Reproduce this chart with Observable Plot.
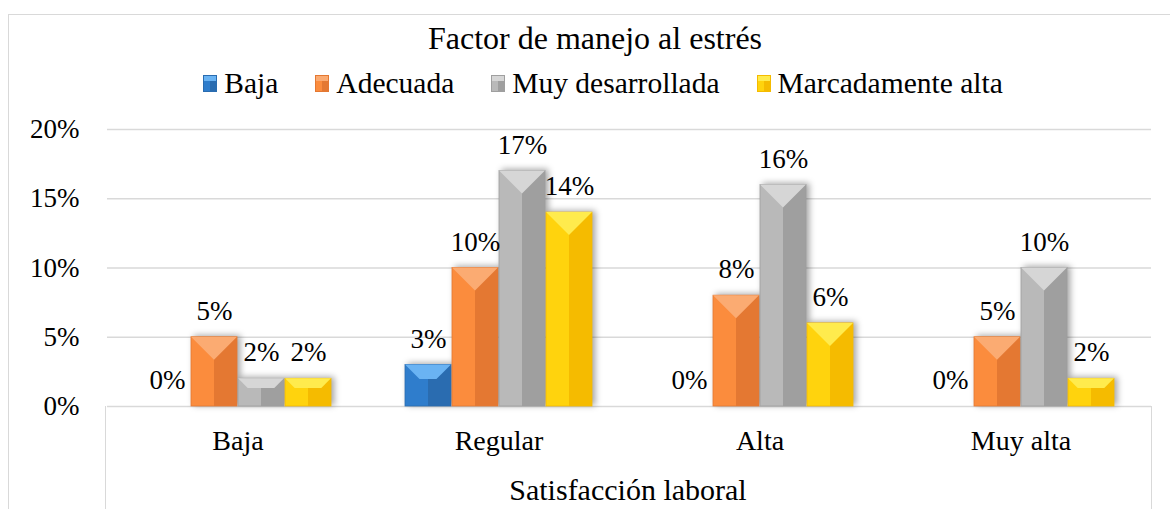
<!DOCTYPE html>
<html><head><meta charset="utf-8">
<script src="https://cdn.jsdelivr.net/npm/d3@7"></script>
<script src="https://cdn.jsdelivr.net/npm/@observablehq/plot@0.6"></script>
<style>
html,body{margin:0;padding:0;background:#fff;}
body, body *{font-family:'Liberation Serif','Times New Roman',serif !important;}
body{width:1170px;height:509px;overflow:hidden;position:relative;color:#000;}
svg text{font-family:'Liberation Serif','Times New Roman',serif !important;}
#frame{position:absolute;left:8px;top:14px;width:1200px;height:600px;border:1.5px solid #d9d9d9;box-sizing:border-box;}
#title{position:absolute;left:0;width:1190px;top:18px;text-align:center;font-size:32px;line-height:40px;}
#legend{position:absolute;left:8px;width:1190px;top:63px;display:flex;justify-content:center;gap:37px;font-size:29.5px;line-height:40px;}
#legend .item{display:flex;align-items:center;}
#legend .sw{width:14px;height:17px;margin-right:7px;box-sizing:border-box;}
#chart{position:absolute;left:0;top:100px;}
#xbox{position:absolute;left:105px;top:406px;width:1047px;height:120px;border-left:1.5px solid #d9d9d9;border-right:1.5px solid #d9d9d9;box-sizing:border-box;}
#xtitle{position:absolute;left:105px;width:1046px;top:470px;text-align:center;font-size:30px;line-height:40px;}
</style>
</head><body>
<div id="frame"></div>
<div id="title">Factor de manejo al estrés</div>
<div id="legend"></div>
<div id="xbox"></div>
<div id="chart"></div>
<div id="xtitle">Satisfacción laboral</div>
<script>
// ---- data ----
const categories = ["Baja", "Regular", "Alta", "Muy alta"];
const series = ["Baja", "Adecuada", "Muy desarrollada", "Marcadamente alta"];
const valuesBaja = [0, 3, 0, 0];
const valuesAdecuada = [5, 10, 8, 5];
const valuesMuyDesarrollada = [2, 17, 16, 10];
const valuesMarcadamenteAlta = [2, 14, 6, 2];
const yTicks = [0, 5, 10, 15, 20];

// ---- styles ----
const FONT = "'Liberation Serif', 'Times New Roman', serif";
const shades = [
  {left:"#2f7dcc", right:"#2a6cb0", top:"#6ab3f3"},
  {left:"#fb8c3d", right:"#e47832", top:"#fbab72"},
  {left:"#b9b9b9", right:"#9f9f9f", top:"#d6d6d6"},
  {left:"#ffd30d", right:"#f5bb00", top:"#ffeb4d"}
];

const seriesValues = [valuesBaja, valuesAdecuada, valuesMuyDesarrollada, valuesMarcadamenteAlta];
const data = categories.flatMap((c, i) => series.map((s, j) => ({cat: c, ser: s, v: seriesValues[j][i]})));

// legend
const legend = document.getElementById("legend");
series.forEach((s, j) => {
  const it = document.createElement("div"); it.className = "item";
  const sw = document.createElement("div"); sw.className = "sw";
  sw.style.background = `linear-gradient(180deg, ${shades[j].top} 0 30%, transparent 30%), linear-gradient(90deg, ${shades[j].left} 50%, ${shades[j].right} 50%)`;
  sw.style.border = `1px solid ${shades[j].right}`;
  const tx = document.createElement("span"); tx.textContent = s;
  it.append(sw, tx); legend.append(it);
});

const chart = Plot.plot({
  width: 1170, height: 409,
  marginTop: 29, marginBottom: 103, marginLeft: 105, marginRight: 18,
  style: {fontFamily: FONT, fontSize: "27px", color: "#000", background: "transparent", overflow: "visible"},
  fx: {domain: categories, padding: 0, label: null},
  x: {domain: series, paddingInner: 0.02, paddingOuter: 0.78, axis: null},
  y: {domain: [0, 20], label: null, axis: null},
  color: {domain: series, range: series.map((s, j) => `url(#barGrad${j})`)},
  marks: [
    Plot.gridY(yTicks, {stroke: "#d9d9d9", strokeOpacity: 1, strokeWidth: 1.5}),
    Plot.axisY(yTicks, {tickSize: 0, tickPadding: 28, tickFormat: d => d + "%", fontSize: 27, fontFamily: FONT, label: null}),
    Plot.axisFx({anchor: "bottom", tickSize: 0, tickPadding: 24, fontSize: 28, fontFamily: FONT, label: null}),
    Plot.barY(data, {fx: "cat", x: "ser", y: "v", fill: "ser", className: "bevel"}),
    Plot.text(data, {fx: "cat", x: "ser", y: "v", text: d => d.v + "%", dy: -26, fontSize: 27, fontFamily: FONT, fill: "#000"})
  ]
});
document.getElementById("chart").append(chart);

// gradients + bevel decoration derived from rendered bars
const svg = d3.select(chart.tagName.toLowerCase() === "svg" ? chart : chart.querySelector("svg"));
const defs = svg.insert("defs", ":first-child");
shades.forEach((sh, j) => {
  const g = defs.append("linearGradient").attr("id", `barGrad${j}`).attr("x1", 0).attr("x2", 1).attr("y1", 0).attr("y2", 0);
  g.append("stop").attr("offset", "0%").attr("stop-color", sh.left);
  g.append("stop").attr("offset", "50%").attr("stop-color", sh.left);
  g.append("stop").attr("offset", "50%").attr("stop-color", sh.right);
  g.append("stop").attr("offset", "100%").attr("stop-color", sh.right);
});
svg.selectAll("g.bevel").style("filter", "drop-shadow(3px -1px 3px rgba(0,0,0,0.35))");
svg.selectAll("g.bevel rect").each(function() {
  const r = d3.select(this);
  const x0 = +r.attr("x"), y0 = +r.attr("y"), w = +r.attr("width"), h = +r.attr("height");
  if (!(h > 0.5)) return;
  const fill = r.attr("fill") || "";
  const m = fill.match(/barGrad(\d)/);
  const j = m ? +m[1] : 0;
  const sh = shades[j];
  const x1 = x0 + w;
  const b = Math.min(w / 2, h * 0.35);
  const parent = d3.select(this.parentNode);
  r.attr("stroke", sh.right).attr("stroke-width", 0.8);
  parent.append("polygon")
    .attr("points", `${x0},${y0} ${x1},${y0} ${x1 - b},${y0 + b} ${x0 + b},${y0 + b}`)
    .attr("fill", sh.top);
});
</script>
</body></html>
